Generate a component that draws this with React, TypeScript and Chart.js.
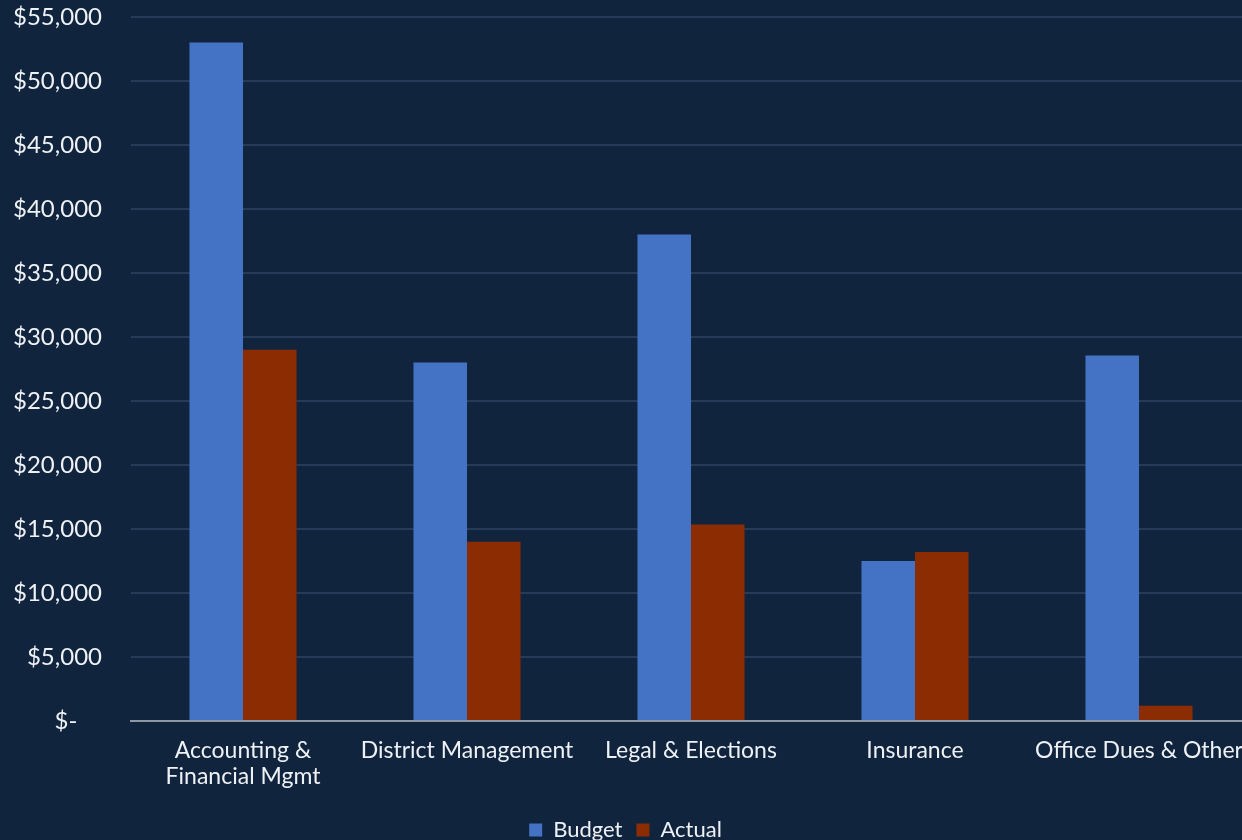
import React, { useEffect, useRef } from "react";
import { Chart, registerables } from "chart.js";

Chart.register(...registerables);

const categories: (string | string[])[] = [
  ["Accounting &", "Financial Mgmt"],
  "District Management",
  "Legal & Elections",
  "Insurance",
  "Office Dues & Other",
];
const budgetValues = [53000, 28000, 38000, 12500, 28550];
const actualValues = [29000, 14000, 15350, 13200, 1200];
const yMin = 0;
const yMax = 55000;
const yStep = 5000;

const BG = "#11243d";
const TEXT = "#eef1f5";
const FONT = "Lato, 'Open Sans', sans-serif";

export default function App() {
  const ref = useRef<HTMLCanvasElement | null>(null);

  useEffect(() => {
    if (!ref.current) return;
    const chart = new Chart(ref.current, {
      type: "bar",
      data: {
        labels: categories,
        datasets: [
          {
            label: "Budget",
            data: budgetValues,
            backgroundColor: "#4472c4",
            borderWidth: 0,
            categoryPercentage: 0.478,
            barPercentage: 1,
          },
          {
            label: "Actual",
            data: actualValues,
            backgroundColor: "#8b2c02",
            borderWidth: 0,
            categoryPercentage: 0.478,
            barPercentage: 1,
          },
        ],
      },
      options: {
        responsive: false,
        animation: false,
        layout: { padding: { top: 17, left: 0, right: 0, bottom: -11 } },
        plugins: {
          tooltip: { enabled: false },
          legend: {
            position: "bottom",
            labels: {
              color: TEXT,
              font: { family: FONT, size: 22 },
              boxWidth: 13,
              boxHeight: 13,
              padding: 14,
            },
          },
        },
        scales: {
          x: {
            grid: { display: false, drawTicks: false },
            border: { display: true, color: "#8e98a5", width: 2 },
            ticks: {
              color: TEXT,
              font: { family: FONT, size: 23, lineHeight: 1.13 },
              padding: 17,
              maxRotation: 0,
              autoSkip: false,
            },
            afterFit: (s: any) => {
              s.height = 84;
              s.paddingLeft = 0;
              s.paddingRight = 0;
            },
          },
          y: {
            min: yMin,
            max: yMax,
            border: { display: false },
            grid: {
              drawTicks: false,
              color: (c: any) => (c.tick && c.tick.value === 0 ? "rgba(0,0,0,0)" : "#253b57"),
              lineWidth: 2,
            },
            ticks: {
              stepSize: yStep,
              color: TEXT,
              font: { family: FONT, size: 24 },
              padding: 29,
              callback: (v: any) =>
                Number(v) === 0 ? "$-    " : "$" + Number(v).toLocaleString("en-US"),
            },
            afterFit: (s: any) => {
              s.width = 131;
              s.paddingTop = 0;
              s.paddingBottom = 0;
            },
          },
        },
      },
    });
    return () => chart.destroy();
  }, []);

  return (
    <div
      style={{
        position: "fixed",
        left: 0,
        top: 0,
        width: 1242,
        height: 840,
        overflow: "hidden",
        background: BG,
      }}
    >
      <canvas ref={ref} width={1251} height={840} style={{ width: 1251, height: 840, display: "block" }} />
    </div>
  );
}
